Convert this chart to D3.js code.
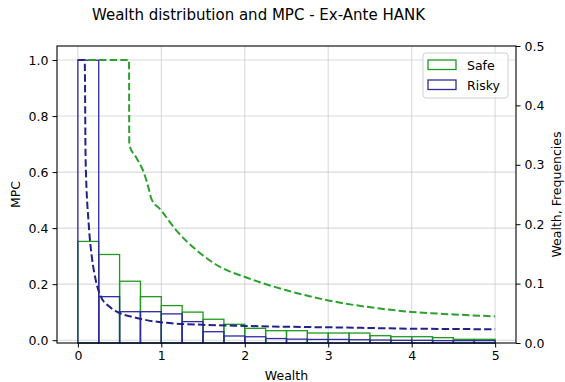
<!DOCTYPE html>
<html>
<head>
<meta charset="utf-8">
<script src="https://cdn.jsdelivr.net/npm/d3@7"></script>
<style>
	body { margin: 0; background: #fff; }
	svg { display: block; font-family: "DejaVu Sans", sans-serif; }
</style>
</head>
<body>
<svg id="chart" width="565" height="382"></svg>
<script>
// histogram bins (wealth) and frequencies
const binEdges = [0, 0.25, 0.5, 0.75, 1, 1.25, 1.5, 1.75, 2, 2.25, 2.5, 2.75, 3, 3.25, 3.5, 3.75, 4, 4.25, 4.5, 4.75, 5];
const safeFreq = [0.171, 0.149, 0.104, 0.078, 0.063, 0.052, 0.040, 0.0315, 0.0247, 0.0207, 0.0207, 0.0168, 0.0168, 0.0168, 0.0123, 0.0106, 0.0106, 0.009, 0.0062, 0.0062];
const riskyFreq = [0.476, 0.078, 0.0527, 0.0527, 0.049, 0.036, 0.019, 0.0118, 0.0105, 0.0075, 0.0065, 0.006, 0.006, 0.0055, 0.005, 0.0045, 0.0045, 0.004, 0.004, 0.004];

// MPC curves
const safeWealth = [0, 0.613, 0.616, 0.70, 0.793, 0.85, 0.88, 0.994, 1.174, 1.415, 1.695, 2.035, 2.5, 3.0, 3.62, 4.0, 4.5, 5.0];
const safeMPC = [1.0, 1.0, 0.697, 0.652, 0.596, 0.54, 0.505, 0.465, 0.394, 0.323, 0.263, 0.222, 0.178, 0.142, 0.113, 0.101, 0.092, 0.085];
const riskyWealth = [0, 0.082, 0.093, 0.132, 0.172, 0.213, 0.273, 0.373, 0.493, 0.693, 1.054, 1.5, 2.0, 2.5, 3.0, 3.6, 4.0, 4.5, 5.0];
const riskyMPC = [1.0, 1.0, 0.643, 0.406, 0.287, 0.216, 0.157, 0.121, 0.098, 0.080, 0.062, 0.055, 0.051, 0.048, 0.046, 0.043, 0.041, 0.040, 0.039];

const xTicks = [0, 1, 2, 3, 4, 5];
const mpcTicks = [0, 0.2, 0.4, 0.6, 0.8, 1.0];
const freqTicks = [0, 0.1, 0.2, 0.3, 0.4, 0.5];

const GREEN_LINE = '#2ca02c';
const GREEN_HIST = '#1f9a1f';
const BLUE_LINE = '#22228e';
const BLUE_HIST = '#2f2a9e';

const svg = d3.select('#chart');
const m = { left: 57, right: 516, top: 46, bottom: 343 };

const x = d3.scaleLinear().domain([-0.25, 5.25]).range([m.left, m.right]);
const yL = d3.scaleLinear().domain([-0.01, 1.05]).range([m.bottom, m.top]);
const yR = d3.scaleLinear().domain([0, 0.5]).range([m.bottom, m.top]);

/* -------------------- grid ---------------------- */
const grid = svg.append('g').attr('stroke', '#b0b0b0').attr('stroke-opacity', 0.45).attr('stroke-width', 1.1);
grid.selectAll('line.v').data(xTicks).join('line')
	.attr('x1', d => x(d)).attr('x2', d => x(d))
	.attr('y1', m.top).attr('y2', m.bottom);
grid.selectAll('line.h').data(mpcTicks).join('line')
	.attr('x1', m.left).attr('x2', m.right)
	.attr('y1', d => yL(d)).attr('y2', d => yL(d));

/* -------------------- histograms ---------------------- */
function drawHist(freq, color) {
	svg.append('g').selectAll('rect').data(freq).join('rect')
		.attr('x', (d, i) => x(binEdges[i]))
		.attr('width', (d, i) => x(binEdges[i + 1]) - x(binEdges[i]))
		.attr('y', d => yR(d))
		.attr('height', d => yR(0) - yR(d))
		.attr('fill', 'none')
		.attr('stroke', color)
		.attr('stroke-width', 1.3);
}
drawHist(safeFreq, GREEN_HIST);
drawHist(riskyFreq, BLUE_HIST);

/* -------------------- MPC lines ---------------------- */
function drawLine(xs, ys, color) {
	const line = d3.line().curve(d3.curveMonotoneX).x(d => x(d[0])).y(d => yL(d[1]));
	svg.append('path')
		.datum(xs.map((v, i) => [v, ys[i]]))
		.attr('d', line)
		.attr('fill', 'none')
		.attr('stroke', color)
		.attr('stroke-width', 2)
		.attr('stroke-dasharray', '7.4,3.2');
}
drawLine(safeWealth, safeMPC, GREEN_LINE);
drawLine(riskyWealth, riskyMPC, BLUE_LINE);

/* -------------------- axes ---------------------- */
const fmt = d3.format('.1f');
function styleAxis(g) {
	g.select('.domain').remove();
	g.selectAll('.tick line').attr('stroke', '#000').attr('stroke-width', 1);
	g.selectAll('.tick text').attr('font-size', 12.5).attr('fill', '#000')
		.attr('font-family', '"DejaVu Sans", sans-serif');
}
svg.append('g').attr('transform', `translate(0,${m.bottom})`)
	.call(d3.axisBottom(x).tickValues(xTicks).tickFormat(d3.format('d')).tickSize(4.5).tickPadding(4))
	.call(styleAxis);
svg.append('g').attr('transform', `translate(${m.left},0)`)
	.call(d3.axisLeft(yL).tickValues(mpcTicks).tickFormat(fmt).tickSize(4.5).tickPadding(4))
	.call(styleAxis);
svg.append('g').attr('transform', `translate(${m.right},0)`)
	.call(d3.axisRight(yR).tickValues(freqTicks).tickFormat(fmt).tickSize(4.5).tickPadding(4))
	.call(styleAxis);

svg.append('rect')
	.attr('x', m.left).attr('y', m.top)
	.attr('width', m.right - m.left).attr('height', m.bottom - m.top)
	.attr('fill', 'none').attr('stroke', '#000').attr('stroke-width', 1.1);

/* -------------------- labels ---------------------- */
svg.append('text').attr('x', 258.5).attr('y', 19.5).attr('text-anchor', 'middle')
	.attr('font-size', 15).text('Wealth distribution and MPC - Ex-Ante HANK');
svg.append('text').attr('x', (m.left + m.right) / 2).attr('y', 380).attr('text-anchor', 'middle')
	.attr('font-size', 12.5).text('Wealth');
svg.append('text').attr('transform', `translate(19.5,${(m.top + m.bottom) / 2}) rotate(-90)`)
	.attr('text-anchor', 'middle').attr('font-size', 12.5).text('MPC');
svg.append('text').attr('transform', `translate(561,${(m.top + m.bottom) / 2}) rotate(-90)`)
	.attr('text-anchor', 'middle').attr('font-size', 12.5).text('Wealth, Frequencies');

/* -------------------- legend ---------------------- */
const legend = svg.append('g').attr('transform', 'translate(423,53)');
legend.append('rect').attr('width', 85).attr('height', 45).attr('rx', 3)
	.attr('fill', '#fff').attr('fill-opacity', 0.8).attr('stroke', '#d0d0d0');
[['Safe', GREEN_HIST], ['Risky', BLUE_HIST]].forEach(([name, color], i) => {
	legend.append('rect').attr('x', 5).attr('y', 7 + i * 20).attr('width', 28).attr('height', 9.5)
		.attr('fill', 'none').attr('stroke', color).attr('stroke-width', 1.3);
	legend.append('text').attr('x', 44).attr('y', 16.5 + i * 20).attr('font-size', 12.5).text(name);
});
</script>
</body>
</html>
